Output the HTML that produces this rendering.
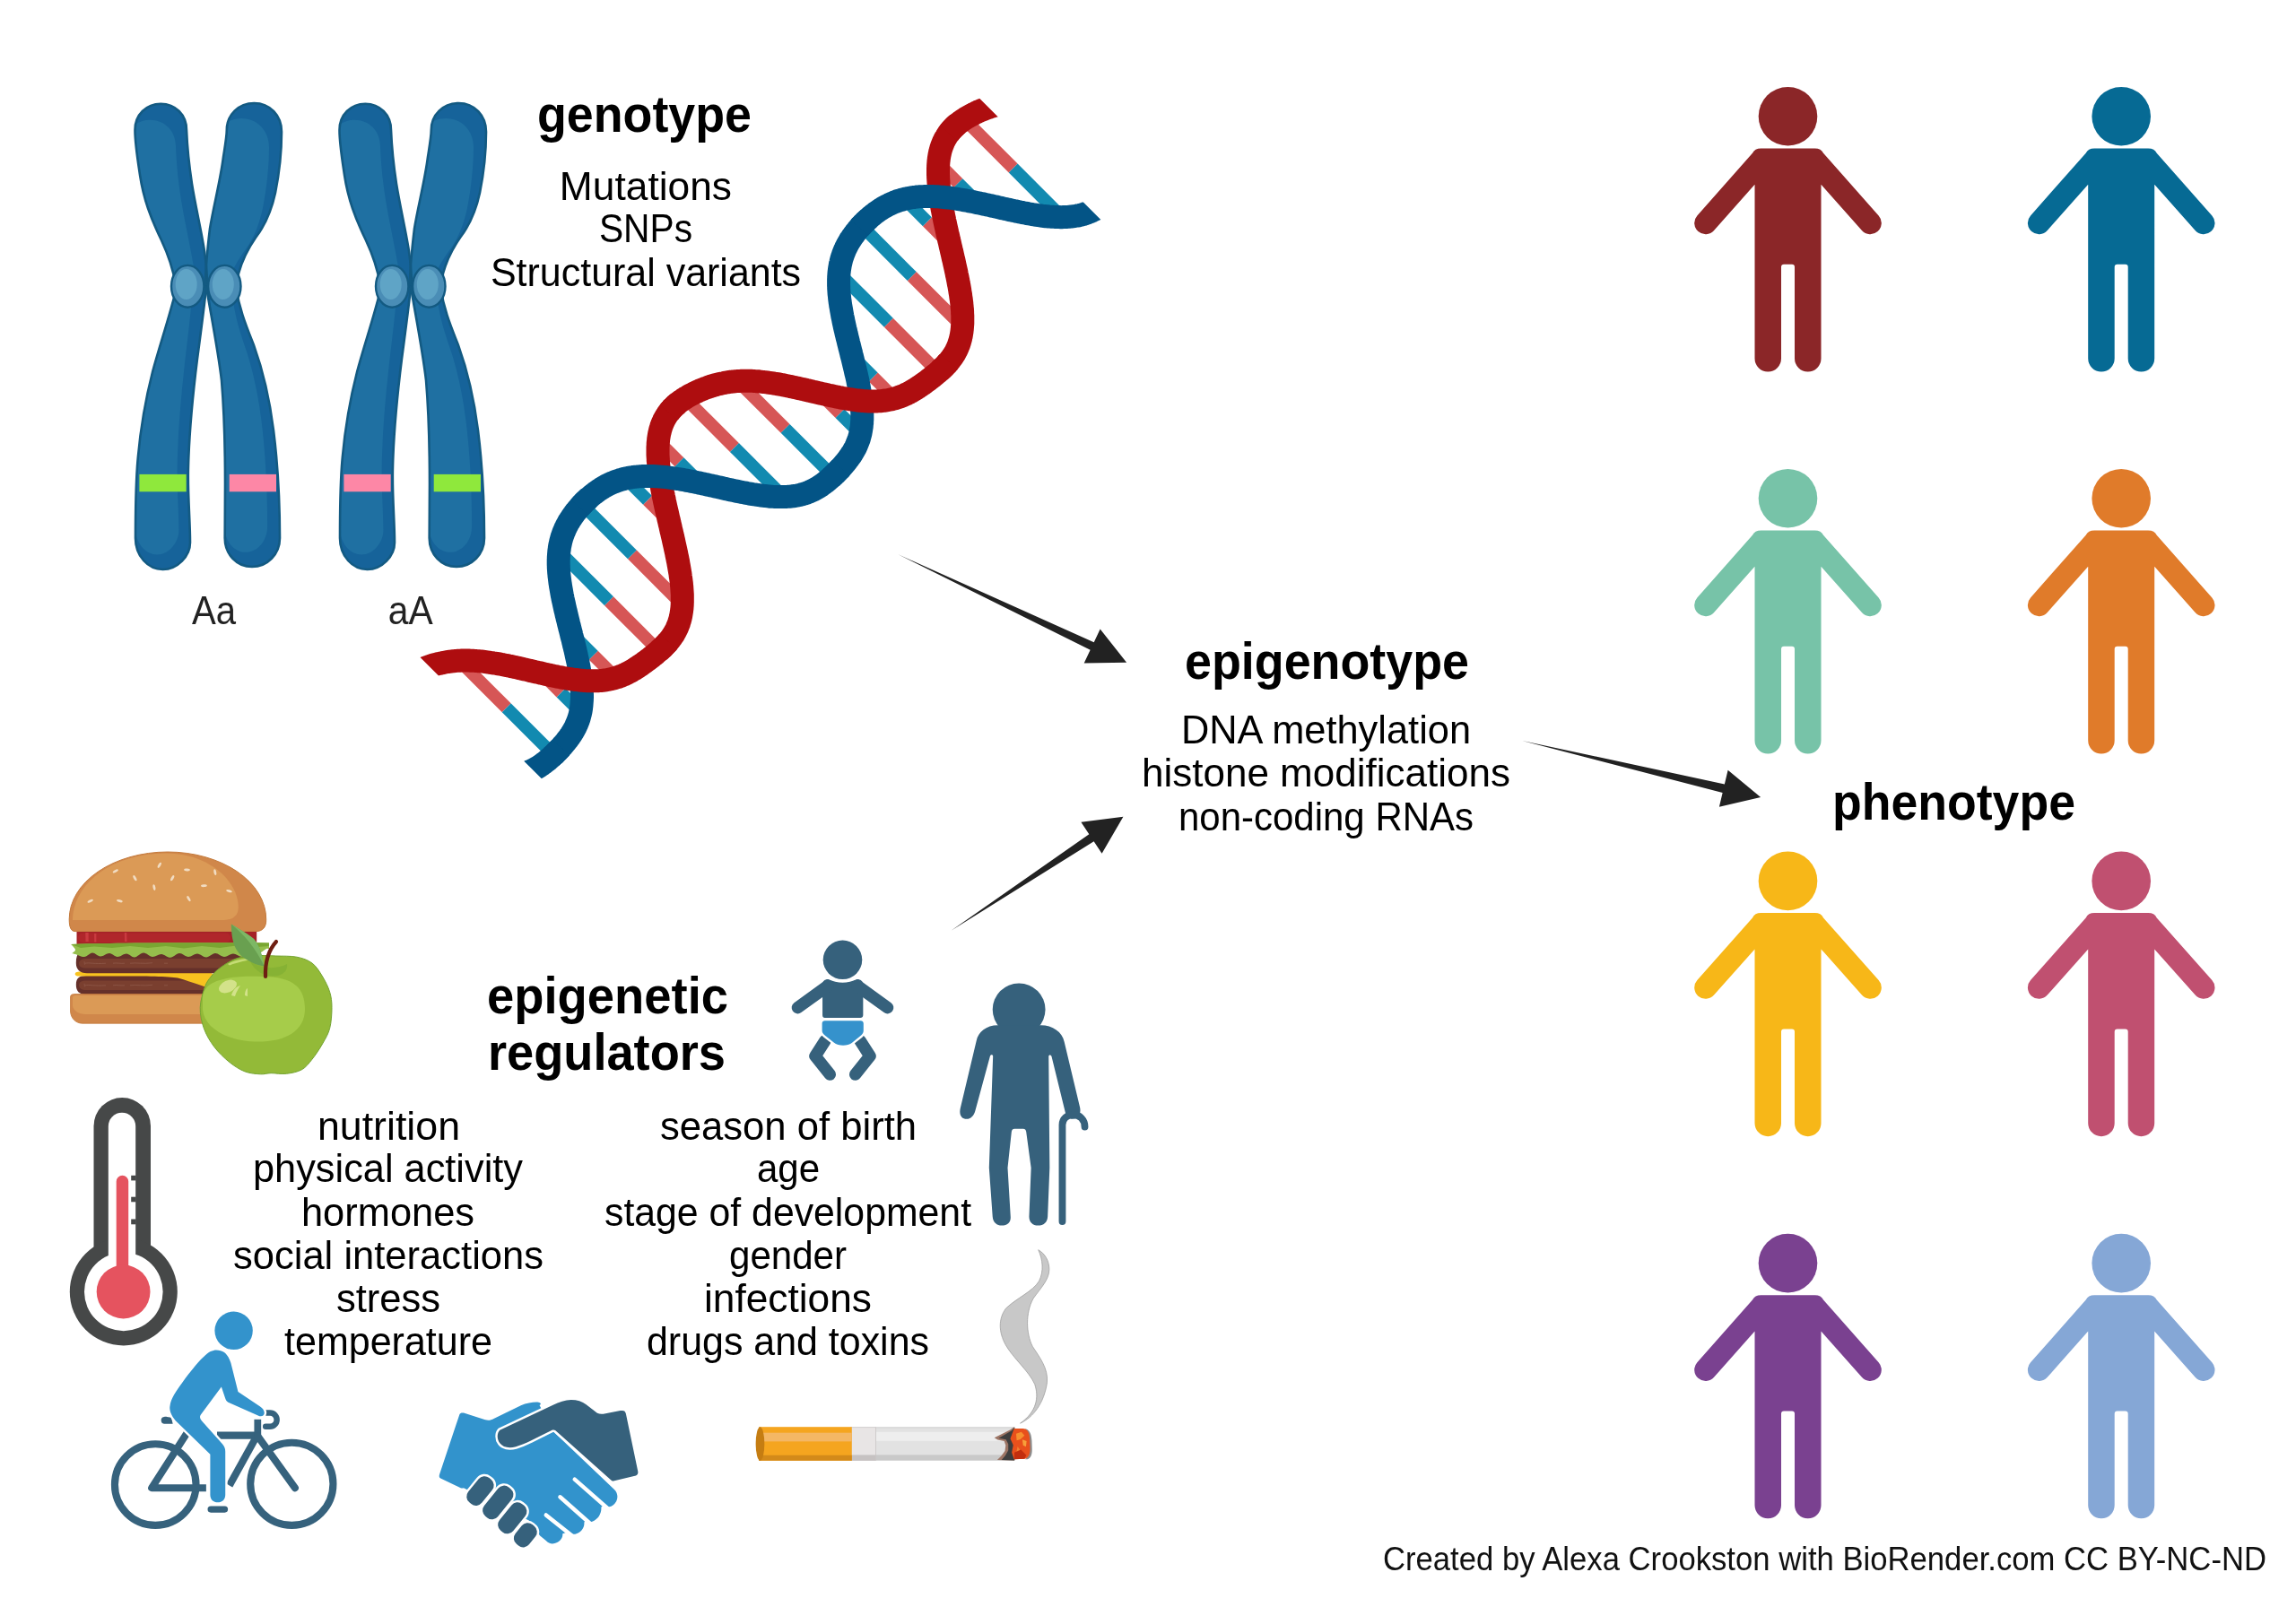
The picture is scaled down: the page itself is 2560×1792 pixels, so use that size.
<!DOCTYPE html>
<html><head><meta charset="utf-8"><title>Epigenetics</title>
<style>
html,body{margin:0;padding:0;background:#fff;}
body{width:2560px;height:1792px;overflow:hidden;}
svg{display:block;will-change:transform;}
text{font-family:"Liberation Sans",sans-serif;}
</style></head><body>
<svg width="2560" height="1792" viewBox="0 0 2560 1792">
<rect width="2560" height="1792" fill="#ffffff"/>
<defs><path id="chUL" d="M150.5,145 C150.5,128 163,115.7 179.3,115.7 C195.5,115.7 208,128 208,145 C209,170 211,185 214,205 C218,230 224,255 228,280 C230,295 231,305 231,318 L196,318 C193,300 188,285 180,268 C168,243 160,222 156,195 C153,175 150.5,160 150.5,145 Z"/><clipPath id="clUL"><use href="#chUL"/></clipPath><path id="chUR" d="M252.8,145 C252.8,128 266,115 283.4,115 C301,115 314,129 314,147 C314,170 311,195 307,215 C302,238 295,252 285,265 C276,278 270,290 266,305 L264,318 L229,318 C229,300 231,280 234,255 C238,230 246,200 249,175 C251,162 252.8,152 252.8,145 Z"/><clipPath id="clUR"><use href="#chUR"/></clipPath><path id="chLL" d="M197,320 C190,350 178,385 170,415 C161,450 156,480 153,520 C151,550 151,580 151,600 C151,620 165,635 181.5,635 C198,635 212,620 212,605 C212,580 209,550 210,520 C211,480 215,440 220,400 C224,370 228,340 230,320 Z"/><clipPath id="clLL"><use href="#chLL"/></clipPath><path id="chLR" d="M230,320 C235,350 243,390 247,424 C250,460 251,500 251,540 C251,560 250.7,580 250.7,600 C250.7,618 264,632 281,632 C298,632 312,618 312,600 C312,560 310,520 305,480 C300,440 292,410 283,385 C274,362 267,345 263,320 Z"/><clipPath id="clLR"><use href="#chLR"/></clipPath></defs><g><use href="#chUL" fill="#16639a"/><g clip-path="url(#clUL)"><use href="#chUL" fill="#1f70a2" transform="translate(-12,18)"/></g><use href="#chUR" fill="#16639a"/><g clip-path="url(#clUR)"><use href="#chUR" fill="#1f70a2" transform="translate(-14,17)"/></g><use href="#chLL" fill="#16639a"/><g clip-path="url(#clLL)"><use href="#chLL" fill="#1f70a2" transform="translate(149,470) scale(0.8,0.9) translate(-149,-470)"/></g><use href="#chLR" fill="#16639a"/><g clip-path="url(#clLR)"><use href="#chLR" fill="#1f70a2" transform="translate(249,470) scale(0.78,0.9) translate(-249,-470)"/></g><rect x="155.4" y="528.9" width="52.3" height="19.4" fill="#8fe83c"/><rect x="255.7" y="528.9" width="52.3" height="19.4" fill="#fd87a6"/><use href="#chUL" fill="none" stroke="#135a82" stroke-width="2.6"/><use href="#chUR" fill="none" stroke="#135a82" stroke-width="2.6"/><use href="#chLL" fill="none" stroke="#135a82" stroke-width="2.6"/><use href="#chLR" fill="none" stroke="#135a82" stroke-width="2.6"/><ellipse cx="209.2" cy="319.3" rx="18.2" ry="23.4" fill="#4a8db6" stroke="#135a82" stroke-width="2.4"/><ellipse cx="207.7" cy="317" rx="12" ry="17" fill="#5fa4c6"/><ellipse cx="250.3" cy="319.3" rx="18.2" ry="23.4" fill="#4a8db6" stroke="#135a82" stroke-width="2.4"/><ellipse cx="248.8" cy="317" rx="12" ry="17" fill="#5fa4c6"/></g><g transform="translate(228,0)"><use href="#chUL" fill="#16639a"/><g clip-path="url(#clUL)"><use href="#chUL" fill="#1f70a2" transform="translate(-12,18)"/></g><use href="#chUR" fill="#16639a"/><g clip-path="url(#clUR)"><use href="#chUR" fill="#1f70a2" transform="translate(-14,17)"/></g><use href="#chLL" fill="#16639a"/><g clip-path="url(#clLL)"><use href="#chLL" fill="#1f70a2" transform="translate(149,470) scale(0.8,0.9) translate(-149,-470)"/></g><use href="#chLR" fill="#16639a"/><g clip-path="url(#clLR)"><use href="#chLR" fill="#1f70a2" transform="translate(249,470) scale(0.78,0.9) translate(-249,-470)"/></g><rect x="155.4" y="528.9" width="52.3" height="19.4" fill="#fd87a6"/><rect x="255.7" y="528.9" width="52.3" height="19.4" fill="#8fe83c"/><use href="#chUL" fill="none" stroke="#135a82" stroke-width="2.6"/><use href="#chUR" fill="none" stroke="#135a82" stroke-width="2.6"/><use href="#chLL" fill="none" stroke="#135a82" stroke-width="2.6"/><use href="#chLR" fill="none" stroke="#135a82" stroke-width="2.6"/><ellipse cx="209.2" cy="319.3" rx="18.2" ry="23.4" fill="#4a8db6" stroke="#135a82" stroke-width="2.4"/><ellipse cx="207.7" cy="317" rx="12" ry="17" fill="#5fa4c6"/><ellipse cx="250.3" cy="319.3" rx="18.2" ry="23.4" fill="#4a8db6" stroke="#135a82" stroke-width="2.4"/><ellipse cx="248.8" cy="317" rx="12" ry="17" fill="#5fa4c6"/></g><defs><clipPath id="dnaclip"><polygon points="323.9,588.4 947.3,-35.1 1371.6,389.2 748.1,1012.6"/></clipPath></defs><g clip-path="url(#dnaclip)"><line x1="512.1" y1="736.7" x2="564.7" y2="789.3" stroke="#d65656" stroke-width="14"/><line x1="564.7" y1="789.3" x2="617.2" y2="841.8" stroke="#128ab0" stroke-width="14"/><line x1="604.0" y1="750.8" x2="625.6" y2="772.5" stroke="#d65656" stroke-width="14"/><line x1="625.6" y1="772.5" x2="647.3" y2="794.1" stroke="#128ab0" stroke-width="14"/><line x1="686.7" y1="755.8" x2="661.7" y2="730.7" stroke="#d65656" stroke-width="14"/><line x1="661.7" y1="730.7" x2="636.7" y2="705.7" stroke="#128ab0" stroke-width="14"/><line x1="734.6" y1="725.9" x2="679.0" y2="670.3" stroke="#d65656" stroke-width="14"/><line x1="679.0" y1="670.3" x2="623.4" y2="614.6" stroke="#128ab0" stroke-width="14"/><line x1="760.7" y1="674.2" x2="704.9" y2="618.4" stroke="#d65656" stroke-width="14"/><line x1="704.9" y1="618.4" x2="649.1" y2="562.6" stroke="#128ab0" stroke-width="14"/><line x1="746.2" y1="581.9" x2="722.0" y2="557.7" stroke="#d65656" stroke-width="14"/><line x1="722.0" y1="557.7" x2="697.8" y2="533.5" stroke="#128ab0" stroke-width="14"/><line x1="734.0" y1="491.9" x2="757.4" y2="515.3" stroke="#d65656" stroke-width="14"/><line x1="757.4" y1="515.3" x2="780.9" y2="538.8" stroke="#128ab0" stroke-width="14"/><line x1="763.8" y1="444.0" x2="818.9" y2="499.0" stroke="#d65656" stroke-width="14"/><line x1="818.9" y1="499.0" x2="874.0" y2="554.1" stroke="#128ab0" stroke-width="14"/><line x1="822.6" y1="425.0" x2="875.6" y2="477.9" stroke="#d65656" stroke-width="14"/><line x1="875.6" y1="477.9" x2="928.5" y2="530.8" stroke="#128ab0" stroke-width="14"/><line x1="913.8" y1="438.4" x2="936.5" y2="461.1" stroke="#d65656" stroke-width="14"/><line x1="936.5" y1="461.1" x2="959.3" y2="483.8" stroke="#128ab0" stroke-width="14"/><line x1="997.6" y1="444.4" x2="973.7" y2="420.5" stroke="#d65656" stroke-width="14"/><line x1="973.7" y1="420.5" x2="949.7" y2="396.5" stroke="#128ab0" stroke-width="14"/><line x1="1046.0" y1="415.0" x2="990.8" y2="359.8" stroke="#d65656" stroke-width="14"/><line x1="990.8" y1="359.8" x2="935.5" y2="304.5" stroke="#128ab0" stroke-width="14"/><line x1="1073.0" y1="364.3" x2="1016.7" y2="308.0" stroke="#d65656" stroke-width="14"/><line x1="1016.7" y1="308.0" x2="960.4" y2="251.6" stroke="#128ab0" stroke-width="14"/><line x1="1059.3" y1="272.8" x2="1033.9" y2="247.3" stroke="#d65656" stroke-width="14"/><line x1="1033.9" y1="247.3" x2="1008.5" y2="221.9" stroke="#128ab0" stroke-width="14"/><line x1="1046.3" y1="182.0" x2="1068.4" y2="204.1" stroke="#d65656" stroke-width="14"/><line x1="1068.4" y1="204.1" x2="1090.6" y2="226.3" stroke="#128ab0" stroke-width="14"/><line x1="1075.1" y1="132.9" x2="1129.7" y2="187.5" stroke="#d65656" stroke-width="14"/><line x1="1129.7" y1="187.5" x2="1184.3" y2="242.2" stroke="#128ab0" stroke-width="14"/><polyline fill="none" stroke="#ae0d0f" stroke-width="26" points="734.5,726.0 735.2,725.4 736.0,724.7 736.7,724.0 737.5,723.3 738.2,722.7 738.9,722.0 739.6,721.3 740.3,720.6 741.0,719.9 741.7,719.1 742.4,718.4 743.1,717.7 743.8,716.9 744.4,716.2 745.1,715.4 745.7,714.7 746.4,713.9 747.0,713.1 747.6,712.3 748.2,711.5 748.8,710.7 749.4,709.8 750.0,709.0 750.5,708.1 751.1,707.3 751.6,706.4 752.1,705.5 752.6,704.6 753.1,703.7 753.6,702.7 754.1,701.8 754.6,700.8 755.0,699.9 755.4,698.9 755.8,697.9 756.2,696.9 756.6,695.8 757.0,694.8 757.3,693.7 757.6,692.6 758.0,691.5 758.3,690.4 758.6,689.3 758.8,688.1 759.1,687.0 759.3,685.8 759.5,684.6 759.7,683.4 759.9,682.2 760.1,680.9 760.2,679.7 760.4,678.4 760.5,677.1 760.6,675.8 760.7,674.4 760.7,673.1 760.8,671.7 760.8,670.3 760.8,668.9 760.8,667.5 760.8,666.1 760.8,664.7 760.8,663.2 760.7,661.7 760.6,660.2 760.5,658.7 760.4,657.2 760.3,655.7 760.2,654.1 760.0,652.6 759.9,651.0 759.7,649.4 759.5,647.8 759.3,646.2 759.1,644.6 758.8,642.9 758.6,641.3 758.4,639.6 758.1,637.9 757.8,636.2 757.5,634.5 757.2,632.8 756.9,631.1 756.6,629.4 756.3,627.6 756.0,625.9 755.6,624.1 755.3,622.4 754.9,620.6 754.5,618.8 754.2,617.0 753.8,615.2 753.4,613.4 753.0,611.6 752.6,609.8 752.2,608.0 751.8,606.2 751.4,604.4 751.0,602.5 750.6,600.7 750.2,598.9 749.7,597.0 749.3,595.2 748.9,593.3 748.4,591.5 748.0,589.7 747.6,587.8 747.2,586.0 746.7,584.1 746.3,582.3 745.9,580.4 745.4,578.6 745.0,576.8 744.6,574.9 744.2,573.1 743.8,571.3 743.3,569.4 742.9,567.6 742.5,565.8 742.1,564.0 741.7,562.1 741.3,560.3 740.9,558.5 740.6,556.7 740.2,555.0 739.8,553.2 739.5,551.4 739.1,549.6 738.8,547.9 738.4,546.1 738.1,544.4 737.8,542.6 737.5,540.9 737.2,539.2 736.9,537.5 736.6,535.8 736.3,534.1 736.1,532.4 735.8,530.8 735.6,529.1 735.3,527.5 735.1,525.8 734.9,524.2 734.7,522.6 734.5,521.0 734.4,519.5 734.2,517.9 734.1,516.3 734.0,514.8 733.8,513.3 733.8,511.8 733.7,510.3 733.6,508.8 733.5,507.3 733.5,505.8 733.5,504.4 733.5,503.0 733.5,501.6 733.5,500.2 733.5,498.8 733.6,497.4 733.7,496.1 733.7,494.8 733.8,493.5 734.0,492.2 734.1,490.9 734.2,489.6 734.4,488.4 734.6,487.1 734.8,485.9 735.0,484.7 735.2,483.6 735.5,482.4 735.8,481.2 736.0,480.1 736.3,479.0 736.7,477.9 737.0,476.8 737.3,475.7 737.7,474.7 738.1,473.7 738.5,472.6 738.9,471.6 739.3,470.7 739.8,469.7 740.2,468.7 740.7,467.8 741.2,466.9 741.7,466.0 742.2,465.1 742.8,464.2 743.3,463.3 743.9,462.5 744.4,461.6 745.0,460.8 745.6,460.0 746.3,459.2 746.9,458.4 747.5,457.7 748.2,456.9 748.9,456.2 749.5,455.4 750.2,454.7 751.0,454.0 751.7,453.3 752.4,452.6 753.1,451.9 753.9,451.3 754.7,450.6 755.4,450.0 756.2,449.4"/><polyline fill="none" stroke="#ae0d0f" stroke-width="26" points="1047.4,413.8 1048.1,413.2 1048.9,412.5 1049.6,411.8 1050.3,411.1 1051.1,410.4 1051.8,409.8 1052.5,409.1 1053.2,408.3 1053.9,407.6 1054.6,406.9 1055.3,406.2 1055.9,405.4 1056.6,404.7 1057.3,403.9 1057.9,403.2 1058.6,402.4 1059.2,401.6 1059.8,400.8 1060.4,400.0 1061.0,399.2 1061.6,398.4 1062.2,397.5 1062.8,396.7 1063.3,395.8 1063.9,395.0 1064.4,394.1 1064.9,393.2 1065.4,392.3 1065.9,391.3 1066.4,390.4 1066.8,389.5 1067.3,388.5 1067.7,387.5 1068.1,386.5 1068.5,385.5 1068.9,384.5 1069.3,383.4 1069.6,382.4 1070.0,381.3 1070.3,380.2 1070.6,379.1 1070.9,378.0 1071.2,376.8 1071.4,375.7 1071.7,374.5 1071.9,373.3 1072.1,372.1 1072.3,370.9 1072.5,369.7 1072.6,368.4 1072.8,367.1 1072.9,365.8 1073.0,364.5 1073.1,363.2 1073.2,361.9 1073.3,360.5 1073.3,359.1 1073.3,357.8 1073.3,356.4 1073.3,354.9 1073.3,353.5 1073.3,352.0 1073.2,350.6 1073.1,349.1 1073.1,347.6 1073.0,346.1 1072.9,344.6 1072.7,343.0 1072.6,341.5 1072.4,339.9 1072.3,338.3 1072.1,336.7 1071.9,335.1 1071.7,333.5 1071.4,331.8 1071.2,330.2 1071.0,328.5 1070.7,326.9 1070.4,325.2 1070.2,323.5 1069.9,321.8 1069.6,320.1 1069.3,318.3 1068.9,316.6 1068.6,314.9 1068.3,313.1 1067.9,311.3 1067.6,309.6 1067.2,307.8 1066.8,306.0 1066.5,304.2 1066.1,302.4 1065.7,300.6 1065.3,298.8 1064.9,297.0 1064.5,295.2 1064.1,293.4 1063.7,291.5 1063.3,289.7 1062.8,287.9 1062.4,286.0 1062.0,284.2 1061.6,282.4 1061.1,280.5 1060.7,278.7 1060.3,276.8 1059.8,275.0 1059.4,273.1 1059.0,271.3 1058.6,269.5 1058.1,267.6 1057.7,265.8 1057.3,263.9 1056.9,262.1 1056.4,260.3 1056.0,258.4 1055.6,256.6 1055.2,254.8 1054.8,253.0 1054.4,251.2 1054.0,249.3 1053.6,247.5 1053.2,245.7 1052.9,244.0 1052.5,242.2 1052.1,240.4 1051.8,238.6 1051.4,236.9 1051.1,235.1 1050.7,233.4 1050.4,231.6 1050.1,229.9 1049.8,228.2 1049.5,226.5 1049.2,224.7 1048.9,223.1 1048.7,221.4 1048.4,219.7 1048.2,218.0 1047.9,216.4 1047.7,214.8 1047.5,213.1 1047.3,211.5 1047.1,209.9 1046.9,208.3 1046.8,206.8 1046.6,205.2 1046.5,203.7 1046.4,202.1 1046.3,200.6 1046.2,199.1 1046.1,197.6 1046.1,196.1 1046.0,194.7 1046.0,193.2 1046.0,191.8 1046.0,190.4 1046.0,189.0 1046.0,187.6 1046.1,186.2 1046.1,184.9 1046.2,183.6 1046.3,182.2 1046.4,180.9 1046.5,179.6 1046.7,178.4 1046.8,177.1 1047.0,175.9 1047.2,174.7 1047.4,173.4 1047.6,172.3 1047.9,171.1 1048.1,169.9 1048.4,168.8 1048.7,167.7 1049.0,166.6 1049.3,165.5 1049.7,164.4 1050.0,163.3 1050.4,162.3 1050.8,161.3 1051.2,160.3 1051.6,159.3 1052.0,158.3 1052.5,157.3 1053.0,156.4 1053.4,155.5 1053.9,154.5 1054.5,153.6 1055.0,152.8 1055.5,151.9 1056.1,151.0 1056.7,150.2 1057.2,149.4 1057.8,148.5 1058.5,147.7 1059.1,146.9 1059.7,146.2 1060.4,145.4 1061.0,144.7 1061.7,143.9 1062.4,143.2 1063.1,142.5 1063.8,141.8 1064.5,141.1 1065.3,140.4 1066.0,139.7 1066.8,139.1 1067.5,138.4 1068.3,137.8"/><polyline fill="none" stroke="#035486" stroke-width="26" points="614.8,844.0 615.6,843.3 616.3,842.6 617.0,841.9 617.8,841.2 618.5,840.6 619.2,839.9 619.9,839.1 620.6,838.4 621.3,837.7 622.0,837.0 622.7,836.3 623.4,835.6 624.1,834.8 624.8,834.1 625.4,833.4 626.1,832.6 626.8,831.9 627.4,831.1 628.1,830.4 628.8,829.6 629.4,828.8 630.0,828.1 630.7,827.3 631.3,826.5 631.9,825.7 632.6,824.9 633.2,824.1 633.8,823.3 634.4,822.5 635.0,821.7 635.5,820.8 636.1,820.0 636.7,819.1 637.2,818.3 637.8,817.4 638.3,816.6 638.9,815.7 639.4,814.8 639.9,813.9 640.4,813.0 640.9,812.0 641.4,811.1 641.8,810.2 642.3,809.2 642.7,808.2 643.2,807.2 643.6,806.2 644.0,805.2 644.4,804.2 644.8,803.2 645.1,802.1 645.5,801.1 645.8,800.0 646.1,798.9 646.4,797.8 646.7,796.6 647.0,795.5 647.2,794.3 647.5,793.2 647.7,792.0 647.9,790.8 648.1,789.5 648.2,788.3 648.4,787.0 648.5,785.7 648.6,784.4 648.7,783.1 648.8,781.8 648.9,780.4 648.9,779.1 649.0,777.7 649.0,776.3 649.0,774.9 648.9,773.4 648.9,772.0 648.8,770.5 648.8,769.0 648.7,767.5 648.5,766.0 648.4,764.4 648.3,762.8 648.1,761.3 647.9,759.7 647.7,758.1 647.5,756.4 647.3,754.8 647.0,753.1 646.8,751.5 646.5,749.8 646.2,748.1 645.9,746.3 645.6,744.6 645.3,742.9 644.9,741.1 644.6,739.3 644.2,737.6 643.8,735.8 643.4,734.0 643.0,732.2 642.6,730.3 642.2,728.5 641.8,726.7 641.4,724.8 640.9,723.0 640.5,721.1 640.0,719.3 639.6,717.4 639.1,715.5 638.7,713.6 638.2,711.8 637.7,709.9 637.2,708.0 636.8,706.1 636.3,704.2 635.8,702.3 635.3,700.4 634.9,698.5 634.4,696.7 633.9,694.8 633.5,692.9 633.0,691.0 632.5,689.1 632.1,687.3 631.6,685.4 631.2,683.5 630.8,681.7 630.3,679.9 629.9,678.0 629.5,676.2 629.1,674.4 628.7,672.5 628.3,670.7 627.9,669.0 627.5,667.2 627.2,665.4 626.8,663.6 626.5,661.9 626.2,660.2 625.9,658.4 625.6,656.7 625.3,655.0 625.0,653.3 624.8,651.7 624.5,650.0 624.3,648.4 624.1,646.7 623.9,645.1 623.7,643.5 623.5,641.9 623.4,640.4 623.2,638.8 623.1,637.3 623.0,635.8 622.9,634.3 622.8,632.8 622.8,631.3 622.7,629.8 622.7,628.4 622.7,627.0 622.7,625.6 622.7,624.2 622.8,622.8 622.8,621.4 622.9,620.1 623.0,618.8 623.1,617.5 623.2,616.2 623.3,614.9 623.5,613.6 623.7,612.4 623.8,611.1 624.0,609.9 624.2,608.7 624.5,607.5 624.7,606.4 625.0,605.2 625.2,604.0 625.5,602.9 625.8,601.8 626.1,600.7 626.4,599.6 626.8,598.5 627.1,597.5 627.5,596.4 627.9,595.4 628.2,594.3 628.6,593.3 629.1,592.3 629.5,591.3 629.9,590.3 630.3,589.4 630.8,588.4 631.3,587.4 631.7,586.5 632.2,585.6 632.7,584.7 633.2,583.7 633.7,582.8 634.2,581.9 634.8,581.1 635.3,580.2 635.9,579.3 636.4,578.5 637.0,577.6 637.5,576.8 638.1,575.9 638.7,575.1 639.3,574.3 639.9,573.5 640.5,572.6 641.1,571.8 641.7,571.0 642.3,570.3 643.0,569.5 643.6,568.7 644.3,567.9 644.9,567.2 645.6,566.4 646.2,565.7 646.9,564.9 647.6,564.2 648.3,563.4 648.9,562.7 649.6,562.0 650.3,561.3 651.0,560.5 651.7,559.8 652.4,559.1 653.2,558.4 653.9,557.8 654.6,557.1 655.4,556.4 656.1,555.7 656.9,555.1"/><polyline fill="none" stroke="#035486" stroke-width="26" points="926.8,532.3 927.6,531.6 928.3,531.0 929.1,530.3 929.8,529.6 930.5,528.9 931.2,528.2 931.9,527.5 932.6,526.8 933.3,526.1 934.0,525.4 934.7,524.6 935.4,523.9 936.1,523.2 936.8,522.5 937.5,521.7 938.2,521.0 938.8,520.2 939.5,519.5 940.1,518.7 940.8,518.0 941.4,517.2 942.1,516.4 942.7,515.7 943.4,514.9 944.0,514.1 944.6,513.3 945.2,512.5 945.8,511.7 946.4,510.9 947.0,510.1 947.6,509.2 948.2,508.4 948.8,507.6 949.3,506.7 949.9,505.9 950.4,505.0 951.0,504.1 951.5,503.2 952.0,502.3 952.5,501.4 953.0,500.5 953.5,499.6 954.0,498.6 954.4,497.7 954.9,496.7 955.3,495.7 955.7,494.7 956.1,493.7 956.5,492.7 956.9,491.7 957.3,490.6 957.7,489.6 958.0,488.5 958.3,487.4 958.6,486.3 958.9,485.2 959.2,484.1 959.5,482.9 959.7,481.7 959.9,480.5 960.1,479.3 960.3,478.1 960.5,476.9 960.7,475.6 960.8,474.4 960.9,473.1 961.1,471.8 961.1,470.4 961.2,469.1 961.3,467.7 961.3,466.4 961.3,465.0 961.3,463.6 961.3,462.1 961.3,460.7 961.2,459.2 961.1,457.7 961.1,456.2 960.9,454.7 960.8,453.2 960.7,451.6 960.5,450.0 960.4,448.4 960.2,446.8 960.0,445.2 959.7,443.6 959.5,441.9 959.2,440.3 959.0,438.6 958.7,436.9 958.4,435.2 958.1,433.4 957.8,431.7 957.4,430.0 957.1,428.2 956.7,426.4 956.4,424.6 956.0,422.8 955.6,421.0 955.2,419.2 954.8,417.4 954.3,415.6 953.9,413.7 953.5,411.9 953.0,410.0 952.6,408.2 952.1,406.3 951.7,404.4 951.2,402.5 950.8,400.7 950.3,398.8 949.8,396.9 949.3,395.0 948.9,393.1 948.4,391.2 947.9,389.3 947.4,387.4 947.0,385.6 946.5,383.7 946.0,381.8 945.6,379.9 945.1,378.0 944.6,376.2 944.2,374.3 943.7,372.4 943.3,370.6 942.9,368.7 942.4,366.9 942.0,365.1 941.6,363.2 941.2,361.4 940.8,359.6 940.4,357.8 940.1,356.0 939.7,354.2 939.3,352.5 939.0,350.7 938.7,349.0 938.4,347.3 938.1,345.5 937.8,343.8 937.5,342.1 937.2,340.5 937.0,338.8 936.7,337.1 936.5,335.5 936.3,333.9 936.1,332.3 936.0,330.7 935.8,329.1 935.6,327.6 935.5,326.0 935.4,324.5 935.3,323.0 935.2,321.5 935.2,320.0 935.1,318.5 935.1,317.1 935.1,315.7 935.1,314.2 935.1,312.8 935.1,311.5 935.2,310.1 935.2,308.7 935.3,307.4 935.4,306.1 935.5,304.8 935.6,303.5 935.8,302.2 935.9,301.0 936.1,299.7 936.3,298.5 936.5,297.3 936.7,296.1 936.9,294.9 937.2,293.8 937.5,292.6 937.7,291.5 938.0,290.3 938.3,289.2 938.6,288.1 939.0,287.0 939.3,286.0 939.7,284.9 940.0,283.9 940.4,282.8 940.8,281.8 941.2,280.8 941.6,279.8 942.0,278.8 942.5,277.8 942.9,276.9 943.4,275.9 943.9,275.0 944.3,274.0 944.8,273.1 945.3,272.2 945.8,271.3 946.3,270.4 946.9,269.5 947.4,268.6 947.9,267.7 948.5,266.9 949.1,266.0 949.6,265.2 950.2,264.3 950.8,263.5 951.4,262.7 952.0,261.9 952.6,261.0 953.2,260.2 953.8,259.4 954.4,258.6 955.0,257.9 955.7,257.1 956.3,256.3 957.0,255.5 957.6,254.8 958.3,254.0 958.9,253.3 959.6,252.5 960.3,251.8 961.0,251.1 961.7,250.3 962.3,249.6 963.0,248.9 963.8,248.2 964.5,247.5 965.2,246.8 965.9,246.1 966.6,245.4 967.4,244.7 968.1,244.1 968.8,243.4"/><polyline fill="none" stroke="#ae0d0f" stroke-width="26" points="458.8,751.6 459.7,751.1 460.6,750.6 461.6,750.1 462.5,749.7 463.5,749.2 464.5,748.7 465.4,748.3 466.4,747.9 467.4,747.4 468.4,747.0 469.4,746.6 470.4,746.2 471.4,745.8 472.4,745.4 473.4,745.0 474.4,744.6 475.5,744.2 476.5,743.8 477.6,743.5 478.6,743.1 479.7,742.8 480.7,742.4 481.8,742.1 482.9,741.7 484.0,741.4 485.1,741.1 486.2,740.8 487.3,740.5 488.5,740.2 489.6,739.9 490.7,739.7 491.9,739.4 493.1,739.2 494.2,738.9 495.4,738.7 496.6,738.5 497.8,738.3 499.0,738.1 500.3,737.9 501.5,737.7 502.8,737.6 504.0,737.4 505.3,737.3 506.6,737.1 507.9,737.0 509.2,736.9 510.5,736.8 511.9,736.7 513.2,736.7 514.6,736.6 515.9,736.6 517.3,736.6 518.7,736.6 520.2,736.6 521.6,736.6 523.0,736.6 524.5,736.7 526.0,736.7 527.5,736.8 529.0,736.9 530.5,737.0 532.0,737.1 533.5,737.2 535.1,737.4 536.7,737.5 538.3,737.7 539.9,737.9 541.5,738.1 543.1,738.3 544.7,738.5 546.4,738.8 548.1,739.0 549.7,739.3 551.4,739.5 553.1,739.8 554.8,740.1 556.5,740.4 558.3,740.7 560.0,741.1 561.8,741.4 563.5,741.8 565.3,742.1 567.1,742.5 568.9,742.8 570.7,743.2 572.5,743.6 574.3,744.0 576.1,744.4 577.9,744.8 579.7,745.2 581.6,745.6 583.4,746.1 585.2,746.5 587.1,746.9 588.9,747.3 590.8,747.8 592.6,748.2 594.4,748.6 596.3,749.1 598.1,749.5 600.0,749.9 601.8,750.3 603.6,750.7 605.5,751.2 607.3,751.6 609.1,752.0 610.9,752.4 612.7,752.8 614.5,753.2 616.3,753.6 618.1,753.9 619.9,754.3 621.7,754.7 623.4,755.0 625.2,755.3 626.9,755.7 628.7,756.0 630.4,756.3 632.1,756.6 633.8,756.8 635.5,757.1 637.1,757.4 638.8,757.6 640.4,757.8 642.0,758.0 643.7,758.2 645.2,758.4 646.8,758.6 648.4,758.7 649.9,758.9 651.5,759.0 653.0,759.1 654.5,759.2 656.0,759.2 657.4,759.3 658.9,759.3 660.3,759.3 661.7,759.3 663.1,759.3 664.5,759.3 665.9,759.2 667.2,759.2 668.5,759.1 669.8,759.0 671.1,758.8 672.4,758.7 673.7,758.6 674.9,758.4 676.1,758.2 677.3,758.0 678.5,757.8 679.7,757.5 680.9,757.3 682.0,757.0 683.2,756.7 684.3,756.5 685.4,756.1 686.5,755.8 687.6,755.5 688.6,755.1 689.7,754.8 690.7,754.4 691.8,754.0 692.8,753.6 693.8,753.2 694.8,752.8 695.8,752.4 696.7,751.9 697.7,751.5 698.6,751.0 699.6,750.5 700.5,750.1 701.5,749.6 702.4,749.1 703.3,748.6 704.2,748.1 705.1,747.5 706.0,747.0 706.9,746.5 707.7,746.0 708.6,745.4 709.5,744.9 710.3,744.3 711.2,743.8 712.0,743.2 712.9,742.6 713.7,742.0 714.6,741.5 715.4,740.9 716.2,740.3 717.1,739.7 717.9,739.1 718.7,738.5 719.5,737.9 720.3,737.3 721.2,736.7 722.0,736.1 722.8,735.5 723.6,734.9 724.4,734.3 725.2,733.7 726.0,733.1 726.8,732.4 727.5,731.8 728.3,731.2 729.1,730.6 729.9,729.9 730.7,729.3 731.4,728.6 732.2,728.0 733.0,727.3 733.7,726.7 734.5,726.0 735.2,725.4 736.0,724.7 736.7,724.0 737.5,723.3 738.2,722.7 738.9,722.0 739.6,721.3 740.3,720.6 741.0,719.9 741.7,719.1 742.4,718.4 743.1,717.7 743.8,716.9 744.4,716.2 745.1,715.4"/><polyline fill="none" stroke="#ae0d0f" stroke-width="26" points="745.6,460.0 746.3,459.2 746.9,458.4 747.5,457.7 748.2,456.9 748.9,456.2 749.5,455.4 750.2,454.7 751.0,454.0 751.7,453.3 752.4,452.6 753.1,451.9 753.9,451.3 754.7,450.6 755.4,450.0 756.2,449.4 757.0,448.7 757.8,448.1 758.6,447.5 759.4,446.9 760.3,446.3 761.1,445.8 761.9,445.2 762.8,444.6 763.7,444.1 764.5,443.5 765.4,443.0 766.3,442.5 767.2,442.0 768.1,441.4 769.0,440.9 769.9,440.4 770.8,439.9 771.8,439.5 772.7,439.0 773.6,438.5 774.6,438.0 775.5,437.6 776.5,437.1 777.5,436.7 778.4,436.2 779.4,435.8 780.4,435.4 781.4,434.9 782.4,434.5 783.4,434.1 784.4,433.7 785.4,433.3 786.4,432.9 787.5,432.5 788.5,432.2 789.6,431.8 790.6,431.4 791.7,431.1 792.7,430.7 793.8,430.4 794.9,430.1 796.0,429.7 797.1,429.4 798.2,429.1 799.3,428.8 800.4,428.5 801.6,428.2 802.7,428.0 803.8,427.7 805.0,427.4 806.2,427.2 807.4,427.0 808.5,426.7 809.7,426.5 811.0,426.3 812.2,426.1 813.4,425.9 814.7,425.8 815.9,425.6 817.2,425.5 818.5,425.3 819.8,425.2 821.1,425.1 822.4,425.0 823.7,424.9 825.1,424.9 826.4,424.8 827.8,424.8 829.2,424.7 830.6,424.7 832.0,424.7 833.4,424.7 834.8,424.8 836.3,424.8 837.8,424.8 839.2,424.9 840.7,425.0 842.2,425.1 843.8,425.2 845.3,425.3 846.9,425.5 848.4,425.6 850.0,425.8 851.6,426.0 853.2,426.1 854.8,426.3 856.5,426.6 858.1,426.8 859.8,427.0 861.4,427.3 863.1,427.6 864.8,427.8 866.5,428.1 868.2,428.4 869.9,428.7 871.7,429.1 873.4,429.4 875.2,429.7 877.0,430.1 878.7,430.5 880.5,430.8 882.3,431.2 884.1,431.6 885.9,432.0 887.7,432.4 889.5,432.8 891.4,433.2 893.2,433.6 895.0,434.0 896.9,434.4 898.7,434.9 900.5,435.3 902.4,435.7 904.2,436.1 906.1,436.6 907.9,437.0 909.7,437.4 911.6,437.9 913.4,438.3 915.3,438.7 917.1,439.1 918.9,439.5 920.8,439.9 922.6,440.4 924.4,440.8 926.2,441.1 928.0,441.5 929.8,441.9 931.6,442.3 933.3,442.6 935.1,443.0 936.9,443.3 938.6,443.7 940.3,444.0 942.1,444.3 943.8,444.6 945.5,444.9 947.2,445.1 948.8,445.4 950.5,445.7 952.1,445.9 953.8,446.1 955.4,446.3 957.0,446.5 958.6,446.7 960.1,446.8 961.7,447.0 963.2,447.1 964.8,447.2 966.3,447.3 967.8,447.4 969.2,447.4 970.7,447.5 972.1,447.5 973.5,447.5 974.9,447.5 976.3,447.4 977.7,447.4 979.1,447.3 980.4,447.3 981.7,447.2 983.0,447.1 984.3,446.9 985.6,446.8 986.8,446.6 988.1,446.4 989.3,446.2 990.5,446.0 991.7,445.8 992.8,445.6 994.0,445.3 995.1,445.0 996.3,444.7 997.4,444.4 998.5,444.1 999.6,443.8 1000.6,443.5 1001.7,443.1 1002.7,442.7 1003.8,442.4 1004.8,442.0 1005.8,441.6 1006.8,441.1 1007.8,440.7 1008.8,440.3 1009.7,439.8 1010.7,439.4 1011.6,438.9 1012.6,438.4 1013.5,438.0 1014.4,437.5 1015.3,437.0 1016.3,436.5 1017.2,435.9 1018.0,435.4 1018.9,434.9 1019.8,434.4 1020.7,433.8 1021.6,433.3 1022.4,432.7 1023.3,432.2 1024.1,431.6 1025.0,431.0 1025.8,430.5 1026.7,429.9 1027.5,429.3 1028.3,428.7 1029.2,428.2 1030.0,427.6 1030.8,427.0 1031.6,426.4 1032.4,425.8 1033.3,425.2 1034.1,424.6 1034.9,424.0 1035.7,423.4 1036.5,422.7 1037.3,422.1 1038.1,421.5 1038.9,420.9 1039.7,420.3 1040.4,419.6 1041.2,419.0 1042.0,418.4 1042.8,417.7 1043.6,417.1 1044.3,416.5 1045.1,415.8 1045.9,415.2 1046.6,414.5 1047.4,413.8 1048.1,413.2 1048.9,412.5 1049.6,411.8 1050.3,411.1 1051.1,410.4 1051.8,409.8 1052.5,409.1 1053.2,408.3 1053.9,407.6 1054.6,406.9 1055.3,406.2 1055.9,405.4 1056.6,404.7 1057.3,403.9 1057.9,403.2"/><polyline fill="none" stroke="#ae0d0f" stroke-width="26" points="1057.8,148.5 1058.5,147.7 1059.1,146.9 1059.7,146.2 1060.4,145.4 1061.0,144.7 1061.7,143.9 1062.4,143.2 1063.1,142.5 1063.8,141.8 1064.5,141.1 1065.3,140.4 1066.0,139.7 1066.8,139.1 1067.5,138.4 1068.3,137.8 1069.1,137.2 1069.9,136.6 1070.7,136.0 1071.5,135.4 1072.4,134.8 1073.2,134.2 1074.0,133.6 1074.9,133.1 1075.7,132.5 1076.6,131.9 1077.5,131.4 1078.4,130.9 1079.3,130.4 1080.2,129.8 1081.1,129.3 1082.0,128.8 1082.9,128.3 1083.8,127.8 1084.7,127.4 1085.7,126.9 1086.6,126.4 1087.6,125.9 1088.5,125.5 1089.5,125.0 1090.5,124.6 1091.4,124.1 1092.4,123.7 1093.4,123.3 1094.4,122.9 1095.4,122.5 1096.4,122.1 1097.4,121.7 1098.4,121.3 1099.5,120.9 1100.5,120.5 1101.6,120.1 1102.6,119.8 1103.7,119.4 1104.7,119.0 1105.8,118.7 1106.9,118.4 1108.0,118.0 1109.0,117.7 1110.1,117.4 1111.3,117.1 1112.4,116.8 1113.5,116.5 1114.6,116.2 1115.8,116.0 1116.9,115.7 1118.1,115.5 1119.3,115.2 1120.5,115.0 1121.7,114.8 1122.9,114.6 1124.1,114.4"/><polyline fill="none" stroke="#035486" stroke-width="26" points="572.4,865.2 573.6,865.0 574.9,864.8 576.1,864.6 577.2,864.4 578.4,864.1 579.6,863.8 580.7,863.6 581.8,863.3 582.9,863.0 584.0,862.6 585.1,862.3 586.1,861.9 587.2,861.6 588.2,861.2 589.2,860.8 590.2,860.4 591.2,859.9 592.2,859.5 593.2,859.1 594.1,858.6 595.1,858.1 596.0,857.6 596.9,857.1 597.8,856.6 598.7,856.1 599.6,855.6 600.5,855.1 601.3,854.5 602.2,853.9 603.0,853.4 603.9,852.8 604.7,852.2 605.5,851.6 606.3,851.0 607.1,850.4 607.9,849.8 608.7,849.2 609.5,848.6 610.3,847.9 611.1,847.3 611.8,846.6 612.6,846.0 613.4,845.3 614.1,844.6 614.8,844.0 615.6,843.3 616.3,842.6 617.0,841.9 617.8,841.2 618.5,840.6 619.2,839.9 619.9,839.1 620.6,838.4 621.3,837.7 622.0,837.0 622.7,836.3 623.4,835.6 624.1,834.8 624.8,834.1 625.4,833.4"/><polyline fill="none" stroke="#035486" stroke-width="26" points="646.2,565.7 646.9,564.9 647.6,564.2 648.3,563.4 648.9,562.7 649.6,562.0 650.3,561.3 651.0,560.5 651.7,559.8 652.4,559.1 653.2,558.4 653.9,557.8 654.6,557.1 655.4,556.4 656.1,555.7 656.9,555.1 657.6,554.4 658.4,553.7 659.1,553.1 659.9,552.5 660.7,551.8 661.5,551.2 662.3,550.6 663.1,550.0 663.9,549.4 664.7,548.7 665.5,548.2 666.3,547.6 667.2,547.0 668.0,546.4 668.9,545.9 669.7,545.3 670.6,544.7 671.5,544.2 672.3,543.7 673.2,543.1 674.1,542.6 675.0,542.1 675.9,541.6 676.9,541.1 677.8,540.7 678.7,540.2 679.7,539.7 680.7,539.3 681.6,538.8 682.6,538.4 683.6,538.0 684.6,537.6 685.6,537.2 686.7,536.8 687.7,536.4 688.8,536.0 689.8,535.7 690.9,535.4 692.0,535.0 693.1,534.7 694.2,534.4 695.3,534.1 696.4,533.8 697.6,533.6 698.7,533.3 699.9,533.1 701.1,532.8 702.3,532.6 703.5,532.4 704.7,532.2 706.0,532.0 707.2,531.9 708.5,531.7 709.7,531.6 711.0,531.5 712.3,531.4 713.7,531.3 715.0,531.2 716.3,531.1 717.7,531.1 719.1,531.0 720.5,531.0 721.9,531.0 723.3,531.0 724.7,531.0 726.1,531.0 727.6,531.1 729.1,531.1 730.6,531.2 732.1,531.3 733.6,531.4 735.1,531.5 736.6,531.6 738.2,531.7 739.7,531.9 741.3,532.0 742.9,532.2 744.5,532.4 746.1,532.6 747.7,532.8 749.4,533.0 751.0,533.3 752.7,533.5 754.4,533.8 756.0,534.0 757.7,534.3 759.4,534.6 761.1,534.9 762.9,535.2 764.6,535.5 766.3,535.9 768.1,536.2 769.8,536.5 771.6,536.9 773.4,537.2 775.1,537.6 776.9,538.0 778.7,538.3 780.5,538.7 782.3,539.1 784.1,539.5 785.9,539.9 787.7,540.3 789.6,540.7 791.4,541.1 793.2,541.5 795.0,541.9 796.8,542.3 798.7,542.7 800.5,543.1 802.3,543.5 804.1,543.9 806.0,544.4 807.8,544.8 809.6,545.2 811.4,545.6 813.2,546.0 815.0,546.4 816.8,546.7 818.6,547.1 820.4,547.5 822.2,547.9 824.0,548.2 825.8,548.6 827.5,549.0 829.3,549.3 831.0,549.6 832.8,550.0 834.5,550.3 836.2,550.6 837.9,550.9 839.6,551.2 841.3,551.5 843.0,551.7 844.7,552.0 846.3,552.2 848.0,552.4 849.6,552.7 851.2,552.9 852.8,553.0 854.4,553.2 856.0,553.4 857.5,553.5 859.1,553.7 860.6,553.8 862.1,553.9 863.6,554.0 865.1,554.0 866.6,554.1 868.0,554.1 869.5,554.1 870.9,554.1 872.3,554.1 873.7,554.1 875.1,554.1 876.4,554.0 877.7,553.9 879.1,553.8 880.4,553.7 881.7,553.6 882.9,553.4 884.2,553.3 885.4,553.1 886.6,552.9 887.8,552.7 889.0,552.5 890.2,552.2 891.4,552.0 892.5,551.7 893.6,551.4 894.7,551.1 895.8,550.8 896.9,550.5 898.0,550.1 899.0,549.8 900.1,549.4 901.1,549.0 902.1,548.6 903.1,548.2 904.1,547.7 905.1,547.3 906.0,546.8 907.0,546.4 907.9,545.9 908.8,545.4 909.7,544.9 910.6,544.4 911.5,543.9 912.4,543.3 913.3,542.8 914.1,542.2 915.0,541.7 915.8,541.1 916.7,540.5 917.5,539.9 918.3,539.3 919.1,538.7 919.9,538.1 920.7,537.5 921.5,536.9 922.3,536.2 923.1,535.6 923.8,535.0 924.6,534.3 925.3,533.6 926.1,533.0 926.8,532.3 927.6,531.6 928.3,531.0 929.1,530.3 929.8,529.6 930.5,528.9 931.2,528.2 931.9,527.5 932.6,526.8 933.3,526.1 934.0,525.4 934.7,524.6 935.4,523.9 936.1,523.2 936.8,522.5 937.5,521.7"/><polyline fill="none" stroke="#035486" stroke-width="26" points="958.3,254.0 958.9,253.3 959.6,252.5 960.3,251.8 961.0,251.1 961.7,250.3 962.3,249.6 963.0,248.9 963.8,248.2 964.5,247.5 965.2,246.8 965.9,246.1 966.6,245.4 967.4,244.7 968.1,244.1 968.8,243.4 969.6,242.7 970.4,242.1 971.1,241.4 971.9,240.8 972.7,240.1 973.5,239.5 974.2,238.9 975.0,238.3 975.8,237.7 976.7,237.0 977.5,236.5 978.3,235.9 979.1,235.3 980.0,234.7 980.8,234.1 981.7,233.6 982.5,233.0 983.4,232.5 984.3,231.9 985.2,231.4 986.0,230.9 987.0,230.4 987.9,229.9 988.8,229.4 989.7,228.9 990.7,228.4 991.6,228.0 992.6,227.5 993.5,227.1 994.5,226.6 995.5,226.2 996.5,225.8 997.5,225.4 998.5,225.0 999.6,224.6 1000.6,224.2 1001.7,223.9 1002.7,223.5 1003.8,223.2 1004.9,222.9 1006.0,222.6 1007.1,222.3 1008.2,222.0 1009.4,221.7 1010.5,221.4 1011.7,221.2 1012.9,220.9 1014.1,220.7 1015.3,220.5 1016.5,220.3 1017.7,220.1 1019.0,220.0 1020.2,219.8 1021.5,219.7 1022.8,219.5 1024.1,219.4 1025.4,219.3 1026.7,219.2 1028.1,219.2 1029.4,219.1 1030.8,219.0 1032.2,219.0 1033.5,219.0 1035.0,219.0 1036.4,219.0 1037.8,219.0 1039.3,219.1 1040.7,219.1 1042.2,219.2 1043.7,219.2 1045.2,219.3 1046.7,219.4 1048.3,219.6 1049.8,219.7 1051.4,219.8 1052.9,220.0 1054.5,220.2 1056.1,220.3 1057.7,220.5 1059.3,220.7 1061.0,221.0 1062.6,221.2 1064.3,221.4 1065.9,221.7 1067.6,221.9 1069.3,222.2 1071.0,222.5 1072.7,222.8 1074.4,223.1 1076.1,223.4 1077.9,223.7 1079.6,224.0 1081.4,224.4 1083.1,224.7 1084.9,225.1 1086.7,225.4 1088.4,225.8 1090.2,226.2 1092.0,226.6 1093.8,226.9 1095.6,227.3 1097.4,227.7 1099.2,228.1 1101.0,228.5 1102.9,228.9 1104.7,229.3 1106.5,229.7 1108.3,230.1 1110.2,230.5 1112.0,231.0 1113.8,231.4 1115.6,231.8 1117.4,232.2 1119.3,232.6 1121.1,233.0 1122.9,233.4 1124.7,233.8 1126.5,234.2 1128.3,234.6 1130.1,235.0 1131.9,235.3 1133.7,235.7 1135.5,236.1 1137.3,236.5 1139.0,236.8 1140.8,237.2 1142.6,237.5 1144.3,237.8 1146.0,238.2 1147.8,238.5 1149.5,238.8 1151.2,239.1 1152.9,239.3 1154.6,239.6 1156.2,239.9 1157.9,240.1 1159.6,240.3 1161.2,240.6 1162.8,240.8 1164.4,241.0 1166.0,241.2 1167.6,241.3 1169.2,241.5 1170.7,241.6 1172.3,241.7 1173.8,241.8 1175.3,241.9 1176.8,242.0 1178.3,242.1 1179.7,242.1 1181.2,242.1 1182.6,242.2 1184.0,242.2 1185.4,242.1 1186.8,242.1 1188.1,242.0 1189.5,242.0 1190.8,241.9 1192.1,241.8 1193.4,241.7 1194.7,241.5 1195.9,241.4 1197.2,241.2 1198.4,241.0 1199.6,240.8 1200.8,240.6 1202.0,240.4 1203.2,240.1 1204.3,239.9 1205.5,239.6 1206.6,239.3 1207.7,239.0 1208.8,238.6 1209.8,238.3 1210.9,237.9 1211.9,237.6 1213.0,237.2 1214.0,236.8 1215.0,236.4 1216.0,236.0 1217.0,235.5 1217.9,235.1 1218.9,234.6 1219.8,234.1 1220.7,233.6 1221.7,233.2 1222.6,232.6 1223.5,232.1 1224.3,231.6 1225.2,231.1 1226.1,230.5 1226.9,230.0 1227.8,229.4 1228.6,228.8 1229.5,228.2 1230.3,227.6 1231.1,227.0 1231.9,226.4 1232.7,225.8 1233.5,225.2 1234.3,224.6"/></g><polygon fill="#222222" points="1001.50,618.30 1215.63,724.87 1208.70,739.52 1256.10,738.70 1226.66,701.55 1219.73,716.19"/><polygon fill="#222222" points="1060.50,1037.80 1219.62,938.17 1228.56,951.68 1252.40,910.70 1205.37,916.66 1214.32,930.17"/><polygon fill="#222222" points="1697.20,825.90 1920.64,883.94 1916.90,899.70 1963.10,889.10 1926.61,858.84 1922.86,874.60"/><g transform="translate(1993.50,129.80)" fill="#8b2628"><circle cx="0" cy="0" r="32.8"/><path d="M-30,35.6 L30,35.6 Q37,35.6 39.5,41 L101.15,110.6 A12.5,12.5 0 0 1 82.45,127.2 L37,76 L37,270 A14.75,14.75 0 0 1 7.5,270 L7.5,168 Q7.5,165 4.5,165 L-4.5,165 Q-7.5,165 -7.5,168 L-7.5,270 A14.75,14.75 0 0 1 -37,270 L-37,76 L-82.45,127.2 A12.5,12.5 0 0 1 -101.15,110.6 L-39.5,41 Q-37,35.6 -30,35.6 Z"/></g><g transform="translate(2365.20,129.80)" fill="#066a94"><circle cx="0" cy="0" r="32.8"/><path d="M-30,35.6 L30,35.6 Q37,35.6 39.5,41 L101.15,110.6 A12.5,12.5 0 0 1 82.45,127.2 L37,76 L37,270 A14.75,14.75 0 0 1 7.5,270 L7.5,168 Q7.5,165 4.5,165 L-4.5,165 Q-7.5,165 -7.5,168 L-7.5,270 A14.75,14.75 0 0 1 -37,270 L-37,76 L-82.45,127.2 A12.5,12.5 0 0 1 -101.15,110.6 L-39.5,41 Q-37,35.6 -30,35.6 Z"/></g><g transform="translate(1993.50,555.80)" fill="#77c3a8"><circle cx="0" cy="0" r="32.8"/><path d="M-30,35.6 L30,35.6 Q37,35.6 39.5,41 L101.15,110.6 A12.5,12.5 0 0 1 82.45,127.2 L37,76 L37,270 A14.75,14.75 0 0 1 7.5,270 L7.5,168 Q7.5,165 4.5,165 L-4.5,165 Q-7.5,165 -7.5,168 L-7.5,270 A14.75,14.75 0 0 1 -37,270 L-37,76 L-82.45,127.2 A12.5,12.5 0 0 1 -101.15,110.6 L-39.5,41 Q-37,35.6 -30,35.6 Z"/></g><g transform="translate(2365.20,555.80)" fill="#e07b2a"><circle cx="0" cy="0" r="32.8"/><path d="M-30,35.6 L30,35.6 Q37,35.6 39.5,41 L101.15,110.6 A12.5,12.5 0 0 1 82.45,127.2 L37,76 L37,270 A14.75,14.75 0 0 1 7.5,270 L7.5,168 Q7.5,165 4.5,165 L-4.5,165 Q-7.5,165 -7.5,168 L-7.5,270 A14.75,14.75 0 0 1 -37,270 L-37,76 L-82.45,127.2 A12.5,12.5 0 0 1 -101.15,110.6 L-39.5,41 Q-37,35.6 -30,35.6 Z"/></g><g transform="translate(1993.50,982.40)" fill="#f7b718"><circle cx="0" cy="0" r="32.8"/><path d="M-30,35.6 L30,35.6 Q37,35.6 39.5,41 L101.15,110.6 A12.5,12.5 0 0 1 82.45,127.2 L37,76 L37,270 A14.75,14.75 0 0 1 7.5,270 L7.5,168 Q7.5,165 4.5,165 L-4.5,165 Q-7.5,165 -7.5,168 L-7.5,270 A14.75,14.75 0 0 1 -37,270 L-37,76 L-82.45,127.2 A12.5,12.5 0 0 1 -101.15,110.6 L-39.5,41 Q-37,35.6 -30,35.6 Z"/></g><g transform="translate(2365.20,982.40)" fill="#c05070"><circle cx="0" cy="0" r="32.8"/><path d="M-30,35.6 L30,35.6 Q37,35.6 39.5,41 L101.15,110.6 A12.5,12.5 0 0 1 82.45,127.2 L37,76 L37,270 A14.75,14.75 0 0 1 7.5,270 L7.5,168 Q7.5,165 4.5,165 L-4.5,165 Q-7.5,165 -7.5,168 L-7.5,270 A14.75,14.75 0 0 1 -37,270 L-37,76 L-82.45,127.2 A12.5,12.5 0 0 1 -101.15,110.6 L-39.5,41 Q-37,35.6 -30,35.6 Z"/></g><g transform="translate(1993.50,1408.60)" fill="#7a4190"><circle cx="0" cy="0" r="32.8"/><path d="M-30,35.6 L30,35.6 Q37,35.6 39.5,41 L101.15,110.6 A12.5,12.5 0 0 1 82.45,127.2 L37,76 L37,270 A14.75,14.75 0 0 1 7.5,270 L7.5,168 Q7.5,165 4.5,165 L-4.5,165 Q-7.5,165 -7.5,168 L-7.5,270 A14.75,14.75 0 0 1 -37,270 L-37,76 L-82.45,127.2 A12.5,12.5 0 0 1 -101.15,110.6 L-39.5,41 Q-37,35.6 -30,35.6 Z"/></g><g transform="translate(2365.20,1408.60)" fill="#85a7d6"><circle cx="0" cy="0" r="32.8"/><path d="M-30,35.6 L30,35.6 Q37,35.6 39.5,41 L101.15,110.6 A12.5,12.5 0 0 1 82.45,127.2 L37,76 L37,270 A14.75,14.75 0 0 1 7.5,270 L7.5,168 Q7.5,165 4.5,165 L-4.5,165 Q-7.5,165 -7.5,168 L-7.5,270 A14.75,14.75 0 0 1 -37,270 L-37,76 L-82.45,127.2 A12.5,12.5 0 0 1 -101.15,110.6 L-39.5,41 Q-37,35.6 -30,35.6 Z"/></g><path d="M77.2,1025 A109.75,75 0 0 1 296.7,1025 C297,1034 293,1038.6 285,1038.6 L84,1038.6 C79,1038.6 77.2,1034 77.2,1025 Z" fill="#d0874a" stroke="#c47a3c" stroke-width="1"/><path d="M81,1026 C81,990 118,952 185,951.5 C230,951.5 258,978 264,1000 C268,1015 266,1025 250,1026 Z" fill="#db9a56"/><ellipse cx="128.8" cy="971.4" rx="3.4" ry="1.4" fill="#f1dcc2" transform="rotate(-30 128.8 971.4)"/><ellipse cx="177.8" cy="964.8" rx="3.4" ry="1.4" fill="#f1dcc2" transform="rotate(-60 177.8 964.8)"/><ellipse cx="208.5" cy="970" rx="3.4" ry="1.4" fill="#f1dcc2" transform="rotate(5 208.5 970)"/><ellipse cx="239.8" cy="972.7" rx="3.4" ry="1.4" fill="#f1dcc2" transform="rotate(80 239.8 972.7)"/><ellipse cx="150.4" cy="979.2" rx="3.4" ry="1.4" fill="#f1dcc2" transform="rotate(60 150.4 979.2)"/><ellipse cx="192.2" cy="979.2" rx="3.4" ry="1.4" fill="#f1dcc2" transform="rotate(-60 192.2 979.2)"/><ellipse cx="227.4" cy="987.7" rx="3.4" ry="1.4" fill="#f1dcc2" transform="rotate(-5 227.4 987.7)"/><ellipse cx="171.9" cy="989.6" rx="3.4" ry="1.4" fill="#f1dcc2" transform="rotate(80 171.9 989.6)"/><ellipse cx="255.5" cy="993.6" rx="3.4" ry="1.4" fill="#f1dcc2" transform="rotate(15 255.5 993.6)"/><ellipse cx="100.7" cy="1004.7" rx="3.4" ry="1.4" fill="#f1dcc2" transform="rotate(-25 100.7 1004.7)"/><ellipse cx="133.4" cy="1004.7" rx="3.4" ry="1.4" fill="#f1dcc2" transform="rotate(15 133.4 1004.7)"/><ellipse cx="210.4" cy="1002.1" rx="3.4" ry="1.4" fill="#f1dcc2" transform="rotate(60 210.4 1002.1)"/><rect x="85.5" y="1039" width="200.7" height="14" fill="#a52228"/><rect x="87" y="1040.5" width="170" height="10.5" rx="5" fill="#b0262b"/><path d="M95.2,1040 L98.7,1040 L98.7,1050 L95.5,1050 Z M105,1041 L107.4,1041 L107.4,1050.5 L105.2,1050.5 Z M138.8,1040 L141.2,1040 L141.6,1050 L139,1050 Z" fill="#c93a3f"/><path d="M84.8,1098 C84.8,1091 88,1088 96,1088 L290,1088 L290,1109 L96,1109 C88,1109 84.8,1105 84.8,1098 Z" fill="#65302a"/><path d="M88,1098.5 C88,1095 91,1093.5 96,1093.5 L290,1093.5 L290,1104 L96,1104 C91,1104 88,1102 88,1098.5 Z" fill="#7a3f2f"/><path d="M83.7,1086 C84,1084 86,1083.6 92,1083.6 L232,1083.6 L240,1087 L236,1102.5 C226,1100 214,1095 200,1091 C190,1088.8 160,1088.4 120,1088.6 L92,1088.6 C86,1088.6 83.5,1088.3 83.7,1086 Z" fill="#f8c21f"/><path d="M84.8,1074 C84.8,1062 90,1058 100,1058 L276,1058 C284,1058 288,1064 288,1072 L290,1085.2 L97,1085.2 C89,1085.2 84.8,1081 84.8,1074 Z" fill="#65302a"/><path d="M88,1074.5 C88,1071 91,1069 97,1069 L300,1069 L300,1079.6 L97,1079.6 C91,1079.6 88,1078 88,1074.5 Z" fill="#7a3f2f"/><path d="M94,1072.2 L94.5,1075.7 M95,1074.2 C100,1073.2 105,1075.2 118,1074.2 M126,1074.2 C130,1073.4 135,1074.8 139,1074.2 M145,1074.2 C152,1073.2 160,1075.2 170,1073.7 M183,1074.2 L187,1074.2" stroke="#8c5646" stroke-width="0.9" fill="none"/><path d="M94,1096.8 L94.5,1100.3 M95,1098.8 C100,1097.8 105,1099.8 118,1098.8 M126,1098.8 C130,1098.0 135,1099.3999999999999 139,1098.8 M145,1098.8 C152,1097.8 160,1099.8 170,1098.3 M183,1098.8 L187,1098.8" stroke="#8c5646" stroke-width="0.9" fill="none"/><path d="M79.2,1053 C120,1051.5 200,1051 300,1051.5 L300,1058  C299.50,1058.00 298.83,1057.17 297.00,1058.00 C295.17,1058.83 291.83,1062.00 289.00,1063.00 C286.17,1064.00 283.17,1063.33 280.00,1064.00 C276.83,1064.67 273.33,1067.08 270.00,1067.00 C266.67,1066.92 263.33,1063.50 260.00,1063.50 C256.67,1063.50 253.33,1067.08 250.00,1067.00 C246.67,1066.92 243.33,1062.92 240.00,1063.00 C236.67,1063.08 233.33,1067.42 230.00,1067.50 C226.67,1067.58 223.33,1063.58 220.00,1063.50 C216.67,1063.42 213.33,1067.08 210.00,1067.00 C206.67,1066.92 203.33,1062.87 200.00,1063.00 C196.67,1063.13 193.33,1067.63 190.00,1067.80 C186.67,1067.97 183.33,1064.13 180.00,1064.00 C176.67,1063.87 173.33,1067.25 170.00,1067.00 C166.67,1066.75 163.33,1062.42 160.00,1062.50 C156.67,1062.58 153.17,1067.33 150.00,1067.50 C146.83,1067.67 144.17,1063.58 141.00,1063.50 C137.83,1063.42 134.17,1067.08 131.00,1067.00 C127.83,1066.92 125.17,1063.08 122.00,1063.00 C118.83,1062.92 115.17,1066.58 112.00,1066.50 C108.83,1066.42 106.00,1062.42 103.00,1062.50 C100.00,1062.58 97.17,1066.75 94.00,1067.00 C90.83,1067.25 86.23,1064.67 84.00,1064.00 C81.77,1063.33 80.60,1063.83 80.60,1063.00 C80.60,1062.17 84.23,1060.67 84.00,1059.00 C83.77,1057.33 80.00,1054.00 79.20,1053.00 Z" fill="#95be4c"/><path d="M79.2,1053 C120,1051.5 200,1051 300,1051.5 L300,1055 L280,1056.5 L262,1054.8 L245,1057 L225,1055 L205,1057.5 L185,1055 L165,1057 L145,1055 L125,1057 L105,1055.5 L90,1057 Z" fill="#79a632"/><path d="M78.5,1112 C78.5,1109.5 80,1108.5 84,1108.5 L255,1108.5 L255,1141.2 L92,1141.2 C84,1141.2 79,1135 78.5,1128 Z" fill="#d0874a" stroke="#c47a3c" stroke-width="0.8"/><path d="M81,1112 C81,1110.5 83,1110 86,1110 L255,1110 L255,1131 L95,1131 C88,1131 82,1127 81,1122 Z" fill="#db9a56"/><path d="M223.20,1123.60 C223.38,1115.93 226.38,1106.37 228.40,1100.60 C230.42,1094.83 232.62,1092.45 235.30,1089.00 C237.98,1085.55 240.08,1083.15 244.50,1079.90 C248.92,1076.65 256.05,1071.82 261.80,1069.50 C267.55,1067.18 274.20,1066.67 279.00,1066.00 C283.80,1065.33 285.80,1065.50 290.60,1065.50 C295.40,1065.50 301.08,1065.72 307.80,1066.00 C314.52,1066.28 324.18,1065.85 330.90,1067.20 C337.62,1068.55 343.32,1070.47 348.10,1074.10 C352.88,1077.73 356.33,1083.63 359.60,1089.00 C362.87,1094.37 365.97,1100.53 367.70,1106.30 C369.43,1112.07 370.00,1116.88 370.00,1123.60 C370.00,1130.32 369.43,1139.88 367.70,1146.60 C365.97,1153.32 362.87,1158.15 359.60,1163.90 C356.33,1169.65 351.93,1176.30 348.10,1181.10 C344.27,1185.90 341.40,1190.00 336.60,1192.70 C331.80,1195.40 325.05,1196.63 319.30,1197.30 C313.55,1197.97 306.88,1196.62 302.10,1196.70 C297.32,1196.78 295.40,1198.08 290.60,1197.80 C285.80,1197.52 279.07,1197.20 273.30,1195.00 C267.53,1192.80 261.75,1189.22 256.00,1184.60 C250.25,1179.98 243.58,1173.63 238.80,1167.30 C234.02,1160.97 229.90,1153.88 227.30,1146.60 C224.70,1139.32 223.02,1131.27 223.20,1123.60 Z" fill="#93ba38" stroke="#74a432" stroke-width="1"/><path d="M226,1112 C228,1092 255,1088 292,1089 C328,1089 340,1102 340,1125 C340,1150 318,1161.6 288,1161.6 C252,1161 228,1146 226,1126 Z" fill="#a6cc4a"/><path d="M254,1075 C262,1070 272,1068.5 284,1069 C276,1071 266,1072.5 256,1076.5 Z" fill="#c5dc74"/><path d="M279,1072 C285,1085 298,1090 310,1088 C318,1086 321,1080 320,1075 C310,1080 295,1082 279,1072 Z" fill="#86b234"/><ellipse cx="254" cy="1100" rx="10.5" ry="6.5" fill="#d3e28a" transform="rotate(-25 254 1100)"/><path d="M258,1110 C260,1103 264,1100 268,1099 C266,1102 263,1107 262,1111 Z" fill="#d3e28a"/><path d="M273,1110 C273,1106 274,1103 276,1102 L276,1111 Z" fill="#d3e28a"/><path d="M257.8,1030.4 C258,1050 262,1062 275,1070 C283,1075 290,1077 294.6,1077.5 C292,1065 290,1055 283,1047 C275,1040 265,1035 257.8,1030.4 Z" fill="#69a050"/><path d="M257.8,1030.4 C272,1042 286,1058 294.6,1077.5 C292,1065 290,1055 283,1047 C275,1040 265,1035 257.8,1030.4 Z" fill="#7db865"/><path d="M296,1089 C295.5,1075 299,1060 308,1050" fill="none" stroke="#6e1e12" stroke-width="4.2" stroke-linecap="round"/><rect x="104.5" y="1224" width="63.5" height="220" rx="31.75" fill="#464848"/><circle cx="137.8" cy="1440.4" r="60" fill="#464848"/><rect x="120.8" y="1240.8" width="30.4" height="200" rx="15.2" fill="#fff"/><circle cx="137.8" cy="1440.4" r="43.8" fill="#fff"/><rect x="146.2" y="1310.8" width="5.5" height="5.6" fill="#464848"/><rect x="146.2" y="1334.7" width="5.5" height="5.6" fill="#464848"/><rect x="146.2" y="1359.5" width="5.5" height="5.8" fill="#464848"/><rect x="129.7" y="1310.8" width="13.5" height="130" rx="6.75" fill="#e5535f"/><circle cx="137.6" cy="1440.5" r="29.9" fill="#e5535f"/><g transform="translate(115,1455) scale(0.161786)"><circle cx="360" cy="1240" r="280" fill="none" stroke="#36627d" stroke-width="50"/><circle cx="1300" cy="1235" r="285" fill="none" stroke="#36627d" stroke-width="50"/><polyline points="580,880 335,1262 710,1262" fill="none" stroke="#36627d" stroke-width="50" stroke-linejoin="round" stroke-linecap="butt"/><path d="M400,795 C400,775 420,770 440,772 L470,778 L480,820 L420,820 C405,820 400,810 400,795 Z" fill="#36627d"/><line x1="785" y1="900" x2="1065" y2="900" stroke="#36627d" stroke-width="50"/><line x1="870" y1="1245" x2="1050" y2="920" stroke="#36627d" stroke-width="50"/><line x1="1065" y1="790" x2="1065" y2="910" stroke="#36627d" stroke-width="48"/><line x1="1065" y1="905" x2="1322" y2="1262" stroke="#36627d" stroke-width="50" stroke-linecap="round"/><path d="M1120,745 L1150,745 A47,47 0 0 1 1150,839 L1120,839" fill="none" stroke="#36627d" stroke-width="40" stroke-linecap="round"/><rect x="720" y="1388" width="140" height="44" rx="22" fill="#36627d"/><path d="M780,312 C830,312 860,340 880,400 L930,600 L1080,700 C1125,728 1118,775 1078,768 L862,672 C850,666 845,655 840,640 L815,565 L672,758 C664,770 667,786 680,800 L822,960 C836,975 842,992 842,1012 L842,1310 C842,1342 820,1362 790,1362 C760,1362 738,1342 738,1310 L738,1030 L512,812 C472,772 455,732 460,700 C468,642 500,600 550,530 C620,432 700,342 740,322 C754,315 768,312 780,312 Z" fill="#3393cc" stroke="#fff" stroke-width="30" paint-order="stroke"/><circle cx="900" cy="178" r="131" fill="#3393cc"/></g><g transform="translate(480,1550) scale(0.111995)"><path d="M330,228 L545,298 C580,306 605,300 630,285 L900,155 C960,128 1030,118 1075,122 C1100,128 1105,140 1085,152 L1230,420 L1830,990 C1875,1035 1870,1105 1820,1145 C1790,1170 1760,1165 1735,1145 L1700,1165 C1705,1230 1670,1290 1610,1310 C1580,1315 1560,1310 1545,1295 L1530,1320 C1535,1370 1500,1420 1440,1435 C1410,1440 1385,1430 1365,1415 L1315,1430 C1320,1480 1280,1520 1225,1530 C1195,1533 1170,1520 1150,1500 L1090,1450 L980,1300 L330,975 C320,980 310,978 300,975 L100,880 C85,870 85,855 90,840 L290,240 C295,230 310,224 330,228 Z" fill="#3293cc"/><path d="M1435,890 L1760,1175 M1290,1065 L1590,1330 M1150,1245 L1420,1460" stroke="#fff" stroke-width="40" stroke-linecap="round" fill="none"/><path d="M1910,205 C1930,205 1940,215 1945,235 L2065,810 C2070,830 2060,848 2045,852 L1830,905 C1815,910 1805,905 1795,895 L1245,405 C1235,395 1220,395 1210,400 L1000,505 C950,530 900,550 850,565 C780,585 720,570 690,530 C660,490 660,430 690,400 L1220,150 C1280,120 1340,100 1400,98 C1460,98 1510,115 1550,145 L1660,230 C1680,240 1700,240 1720,238 L1890,205 Z" fill="#36617c" stroke="#fff" stroke-width="44" paint-order="stroke" stroke-linejoin="round"/><rect x="338.0" y="918" width="314" height="174" rx="75" fill="#36617c" stroke="#fff" stroke-width="44" paint-order="stroke" transform="rotate(-51 495 1005)"/><rect x="487.0" y="1033" width="370" height="174" rx="75" fill="#36617c" stroke="#fff" stroke-width="44" paint-order="stroke" transform="rotate(-51 672 1120)"/><rect x="645.0" y="1188" width="340" height="174" rx="75" fill="#36617c" stroke="#fff" stroke-width="44" paint-order="stroke" transform="rotate(-51 815 1275)"/><rect x="820.0" y="1358" width="250" height="174" rx="75" fill="#36617c" stroke="#fff" stroke-width="44" paint-order="stroke" transform="rotate(-51 945 1445)"/></g><g transform="translate(830,1380) scale(0.161838)"><path d="M1900,1280 C1990,1240 2065,1140 2085,1000 C2095,900 2030,820 1985,750 C1940,660 1935,520 1990,420 C2040,350 2100,290 2100,220 C2100,160 2070,110 2025,85 C2055,150 2065,230 2030,300 C1990,370 1870,420 1800,490 C1750,560 1750,650 1800,740 C1850,830 1960,920 2000,1010 C2030,1100 2015,1200 1900,1280 Z" fill="#c8c8c8" stroke="#a0a0a0" stroke-width="5"/><rect x="900" y="1308" width="960" height="228" fill="#e2e2e2"/><rect x="900" y="1340" width="960" height="62" fill="#eeeeee"/><rect x="900" y="1498" width="960" height="38" fill="#c9c9c9"/><rect x="900" y="1306" width="960" height="6" fill="#cfcfcf"/><rect x="735" y="1308" width="170" height="228" fill="#e8e5e5" stroke="#c9c5c5" stroke-width="5"/><rect x="735" y="1498" width="170" height="38" fill="#c6c2c2"/><rect x="100" y="1305" width="640" height="232" fill="#f5a51f"/><rect x="100" y="1345" width="640" height="60" fill="#f4b765"/><rect x="100" y="1500" width="640" height="37" fill="#d38a1a"/><ellipse cx="108" cy="1421" rx="30" ry="116" fill="#c57d12"/><path d="M1858,1306 L1830,1325 L1790,1345 L1722,1380 L1745,1394 L1790,1402 L1800,1432 L1795,1470 L1770,1505 L1742,1533 L1860,1536 Z" fill="#9c7565"/><path d="M1862,1306 L1842,1330 L1805,1352 L1752,1382 L1802,1392 L1818,1422 L1818,1466 L1798,1502 L1772,1532 L1862,1536 Z" fill="#3e3e3e"/><path d="M1930,1318 C1962,1320 1977,1350 1980,1400 L1982,1460 C1982,1500 1972,1522 1950,1527 L1935,1527 C1958,1510 1963,1480 1961,1440 L1956,1380 C1953,1345 1945,1325 1930,1318 Z" fill="#8d8d8d"/><path d="M1858,1316 L1918,1316 C1948,1318 1962,1340 1965,1380 L1968,1440 C1971,1490 1957,1522 1932,1525 L1858,1528 L1842,1482 L1852,1430 L1832,1386 Z" fill="#e8501c"/><path d="M1872,1352 L1908,1340 L1930,1364 L1902,1390 L1876,1398 Z" fill="#f7902f"/><path d="M1915,1392 L1944,1402 L1940,1442 L1920,1432 Z" fill="#f7a03a"/><path d="M1882,1440 L1902,1468 L1872,1488 Z" fill="#f08030"/><path d="M1860,1482 L1905,1462 L1942,1500 L1930,1525 L1860,1527 Z" fill="#c22e0e"/></g><g transform="translate(860,1030) scale(0.217770)" fill="#36617c"><circle cx="365" cy="185" r="100"/><path d="M262,310 C262,295 275,285 290,285 C315,296 340,302 365,302 C390,302 415,296 440,285 C455,285 470,295 470,310 L470,468 C470,476 464,482 456,482 L274,482 C266,482 262,476 262,468 Z"/><path d="M290,318 L135,430 M440,318 L595,430" stroke="#36617c" stroke-width="62" stroke-linecap="round" fill="none"/><path d="M275,600 L225,678 L300,772 M455,600 L505,678 L430,772" stroke="#36617c" stroke-width="62" stroke-linecap="round" stroke-linejoin="round" fill="none"/><path d="M260,511 C260,502 266,497 274,497 L458,497 C466,497 472,502 472,511 L472,548 C472,558 468,565 460,572 L415,608 C390,628 345,628 320,608 L274,572 C265,565 260,558 260,548 Z" fill="#3592cc" stroke="#fff" stroke-width="22" paint-order="stroke"/><circle cx="1268" cy="440" r="135"/><path d="M1160,520 L1380,520 C1440,520 1490,555 1500,605 L1580,940 C1588,975 1570,1000 1545,1000 C1522,1000 1510,985 1505,965 L1435,680 C1432,670 1420,670 1420,680 L1425,1250 L1415,1500 C1413,1530 1395,1545 1365,1545 C1340,1545 1320,1530 1320,1500 L1330,1250 L1305,1065 C1303,1055 1298,1050 1290,1050 L1245,1050 C1237,1050 1232,1055 1230,1065 L1210,1250 L1225,1500 C1227,1530 1210,1545 1180,1545 C1155,1545 1135,1530 1133,1500 L1115,1250 L1135,680 C1135,670 1125,668 1120,678 L1045,955 C1038,985 1020,1000 1000,1000 C975,1000 960,980 968,945 L1050,600 C1060,555 1100,520 1160,520 Z"/><path d="M1490,1525 L1490,1030 C1490,1000 1515,978 1545,978 C1580,978 1605,1005 1605,1040" stroke="#36617c" stroke-width="36" stroke-linecap="round" fill="none"/></g><text x="598.96" y="146.90" font-size="57.6" font-weight="bold" fill="#000" textLength="239.08" lengthAdjust="spacingAndGlyphs">genotype</text><text x="623.89" y="222.50" font-size="43.5" font-weight="normal" fill="#000" textLength="192.15" lengthAdjust="spacingAndGlyphs">Mutations</text><text x="667.92" y="270.00" font-size="43.5" font-weight="normal" fill="#000" textLength="104.14" lengthAdjust="spacingAndGlyphs">SNPs</text><text x="546.97" y="318.90" font-size="43.5" font-weight="normal" fill="#000" textLength="346.10" lengthAdjust="spacingAndGlyphs">Structural variants</text><text x="213.95" y="695.50" font-size="43.5" font-weight="normal" fill="#222" textLength="49.09" lengthAdjust="spacingAndGlyphs">Aa</text><text x="432.70" y="695.50" font-size="43.5" font-weight="normal" fill="#222" textLength="49.92" lengthAdjust="spacingAndGlyphs">aA</text><text x="1320.97" y="756.80" font-size="57.6" font-weight="bold" fill="#000" textLength="317.10" lengthAdjust="spacingAndGlyphs">epigenotype</text><text x="1316.93" y="829.30" font-size="43.5" font-weight="normal" fill="#000" textLength="323.11" lengthAdjust="spacingAndGlyphs">DNA methylation</text><text x="1272.96" y="877.40" font-size="43.5" font-weight="normal" fill="#000" textLength="411.07" lengthAdjust="spacingAndGlyphs">histone modifications</text><text x="1313.96" y="925.60" font-size="43.5" font-weight="normal" fill="#000" textLength="329.09" lengthAdjust="spacingAndGlyphs">non-coding RNAs</text><text x="2042.92" y="913.50" font-size="57.6" font-weight="bold" fill="#000" textLength="271.13" lengthAdjust="spacingAndGlyphs">phenotype</text><text x="542.97" y="1130.00" font-size="57.6" font-weight="bold" fill="#000" textLength="269.05" lengthAdjust="spacingAndGlyphs">epigenetic</text><text x="543.93" y="1192.90" font-size="57.6" font-weight="bold" fill="#000" textLength="265.10" lengthAdjust="spacingAndGlyphs">regulators</text><text x="353.90" y="1270.70" font-size="43.5" font-weight="normal" fill="#000" textLength="159.14" lengthAdjust="spacingAndGlyphs">nutrition</text><text x="281.97" y="1317.70" font-size="43.5" font-weight="normal" fill="#000" textLength="301.02" lengthAdjust="spacingAndGlyphs">physical activity</text><text x="335.93" y="1366.60" font-size="43.5" font-weight="normal" fill="#000" textLength="193.15" lengthAdjust="spacingAndGlyphs">hormones</text><text x="259.98" y="1414.80" font-size="43.5" font-weight="normal" fill="#000" textLength="346.08" lengthAdjust="spacingAndGlyphs">social interactions</text><text x="374.95" y="1463.00" font-size="43.5" font-weight="normal" fill="#000" textLength="116.09" lengthAdjust="spacingAndGlyphs">stress</text><text x="316.99" y="1510.90" font-size="43.5" font-weight="normal" fill="#000" textLength="232.06" lengthAdjust="spacingAndGlyphs">temperature</text><text x="735.97" y="1270.60" font-size="43.5" font-weight="normal" fill="#000" textLength="286.10" lengthAdjust="spacingAndGlyphs">season of birth</text><text x="843.91" y="1318.20" font-size="43.5" font-weight="normal" fill="#000" textLength="70.16" lengthAdjust="spacingAndGlyphs">age</text><text x="674.00" y="1367.00" font-size="43.5" font-weight="normal" fill="#000" textLength="409.05" lengthAdjust="spacingAndGlyphs">stage of development</text><text x="812.97" y="1414.90" font-size="43.5" font-weight="normal" fill="#000" textLength="131.09" lengthAdjust="spacingAndGlyphs">gender</text><text x="784.93" y="1463.40" font-size="43.5" font-weight="normal" fill="#000" textLength="187.09" lengthAdjust="spacingAndGlyphs">infections</text><text x="720.98" y="1511.30" font-size="43.5" font-weight="normal" fill="#000" textLength="315.04" lengthAdjust="spacingAndGlyphs">drugs and toxins</text><text x="1541.99" y="1751.20" font-size="37" font-weight="normal" fill="#111" textLength="985.02" lengthAdjust="spacingAndGlyphs">Created by Alexa Crookston with BioRender.com CC BY-NC-ND</text>
</svg>
</body></html>
